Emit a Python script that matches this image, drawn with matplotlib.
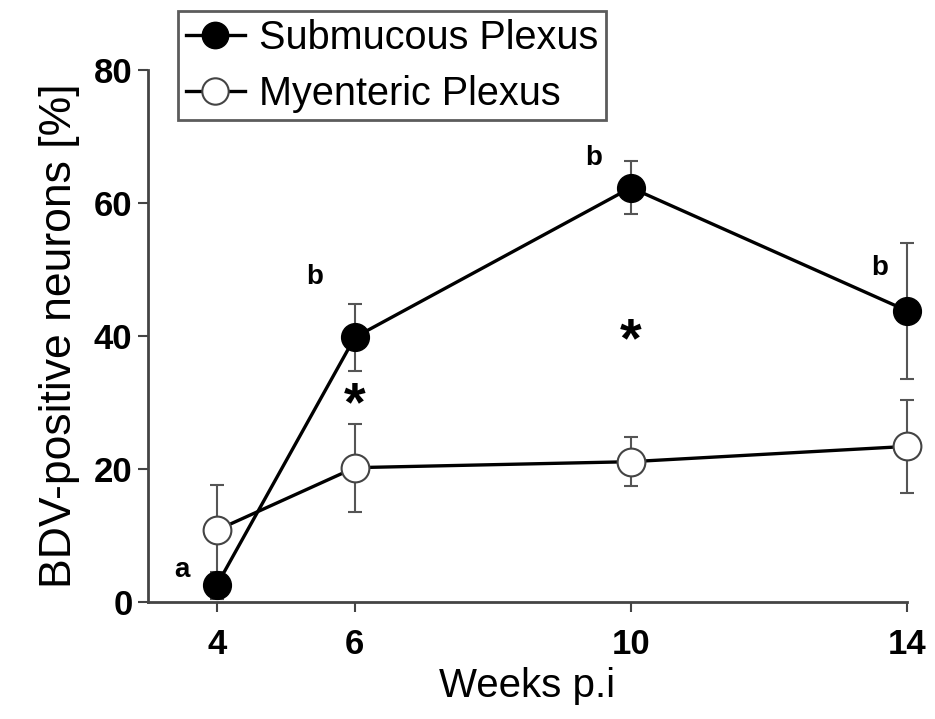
import matplotlib
matplotlib.use("Agg")
import matplotlib.pyplot as plt

plt.rcParams['font.family'] = ['Liberation Sans', 'DejaVu Sans']

weeks = [4, 6, 10, 14]
submucous = [2.5, 39.8, 62.3, 43.8]
submucous_err = [2.0, 5.0, 4.0, 10.2]
myenteric = [10.8, 20.2, 21.1, 23.4]
myenteric_err = [6.8, 6.6, 3.7, 7.0]

letters = ['a', 'b', 'b', 'b']
letter_pos = [(3.5, 4.8), (5.42, 48.9), (9.46, 66.8), (13.6, 50.2)]
star_weeks = [6, 10]
star_y = [29.5, 39.0]

fig = plt.figure(figsize=(9.35, 7.19), dpi=100)
ax = fig.add_axes([0.158, 0.1627, 0.812, 0.74])

ax.errorbar(weeks, myenteric, yerr=myenteric_err, fmt='none', ecolor='#555555',
            elinewidth=1.5, capsize=5, capthick=1.5, zorder=2, clip_on=False)
ax.errorbar(weeks, submucous, yerr=submucous_err, fmt='none', ecolor='#555555',
            elinewidth=1.5, capsize=5, capthick=1.5, zorder=2, clip_on=False)
ax.plot(weeks, myenteric, '-o', color='black', lw=2.4, ms=20, mfc='white',
        mec='#444444', mew=1.5, label='Myenteric Plexus', zorder=3, clip_on=False)
ax.plot(weeks, submucous, '-o', color='black', lw=2.4, ms=20, mfc='black',
        mec='black', label='Submucous Plexus', zorder=4, clip_on=False)

for t, (lx, ly) in zip(letters, letter_pos):
    ax.text(lx, ly, t, fontsize=20, ha='center', va='center', fontweight='bold')
for sx, sy in zip(star_weeks, star_y):
    ax.text(sx, sy, '*', fontsize=40, ha='center', va='center', fontweight='bold')

ax.set_xlim(3, 14)
ax.set_ylim(0, 80)
ax.set_xticks(weeks)
ax.set_yticks([0, 20, 40, 60, 80])
ax.tick_params(labelsize=25, length=7, width=1.5, color='#444444', pad=4)
ax.tick_params(axis='x', pad=12)
for lbl in ax.get_xticklabels() + ax.get_yticklabels():
    lbl.set_fontweight('bold')
for s in ['top', 'right']:
    ax.spines[s].set_visible(False)
for s in ['left', 'bottom']:
    ax.spines[s].set_linewidth(2)
    ax.spines[s].set_color('#444444')

ax.set_xlabel('Weeks p.i', fontsize=29, labelpad=4)
ax.set_ylabel('BDV-positive neurons [%]', fontsize=32, labelpad=10)

h, l = ax.get_legend_handles_labels()
leg = fig.legend(h[::-1], l[::-1], loc='upper left', bbox_to_anchor=(0.19, 0.985),
                 fontsize=28.5, frameon=True, fancybox=False, edgecolor='#333333',
                 handlelength=1.5, markerscale=0.95, borderpad=0.2,
                 labelspacing=0.45, handletextpad=0.35, borderaxespad=0)
leg.get_frame().set_linewidth(2)

fig.savefig('out.png', dpi=100)
